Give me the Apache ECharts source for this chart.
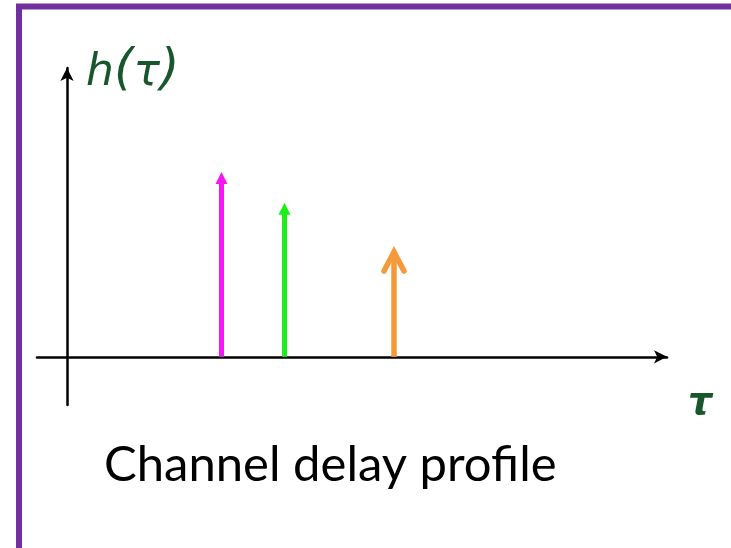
<!DOCTYPE html>
<html>
<head>
<meta charset="utf-8">
<script src="https://cdn.jsdelivr.net/npm/echarts@6/dist/echarts.min.js"></script>
<style>
  html, body { margin: 0; padding: 0; background: #ffffff; }
  #chart { width: 731px; height: 548px; }
</style>
</head>
<body>
<div id="chart"></div>
<script>
// ---- data ----
var delays = [5.15, 7.25, 10.9];        // tau positions of the impulses
var gains = [0.96, 0.80, 0.56];         // impulse heights h(tau)
var pathNames = ['path 1', 'path 2', 'path 3'];
var yLabelParts = ['h', '(', '\u03C4', ')'];
var xLabel = '\u03C4';
var caption = 'Channel delay profile';

// ---- styles ----
var pathColors = ['#f516f5', '#18f018', '#f59a3a'];
var headKinds = ['filled', 'filled', 'open'];

var chart = echarts.init(document.getElementById('chart'), null, { renderer: 'canvas' });

var impulseData = delays.map(function (d, i) {
  return { name: pathNames[i], value: [d, gains[i], i] };
});

function renderImpulse(params, api) {
  var x = api.value(0), h = api.value(1), idx = api.value(2);
  var base = api.coord([x, 0]);
  var tip = api.coord([x, h]);
  var color = pathColors[idx];
  var kind = headKinds[idx];
  var children = [];
  if (kind === 'filled') {
    var hh = 12, hw = 6;
    children.push({
      type: 'line',
      shape: { x1: base[0], y1: base[1], x2: tip[0], y2: tip[1] + hh - 2 },
      style: { stroke: color, lineWidth: 5 }
    });
    children.push({
      type: 'polygon',
      shape: { points: [[tip[0], tip[1]], [tip[0] - hw, tip[1] + hh], [tip[0] + hw, tip[1] + hh]] },
      style: { fill: color }
    });
  } else {
    children.push({
      type: 'line',
      shape: { x1: base[0], y1: base[1], x2: tip[0], y2: tip[1] + 3 },
      style: { stroke: color, lineWidth: 5.5 }
    });
    children.push({
      type: 'polyline',
      shape: { points: [[tip[0] - 10, tip[1] + 22], [tip[0], tip[1] + 3], [tip[0] + 10, tip[1] + 22]] },
      style: { stroke: color, lineWidth: 5.5, fill: null, lineCap: 'round', lineJoin: 'miter' }
    });
  }
  return { type: 'group', children: children };
}

var labelText = '{l|' + yLabelParts[0] + '}{p|' + yLabelParts[1] + '}{l|' + yLabelParts[2] + '}{p|' + yLabelParts[3] + '}';

var option = {
  animation: false,
  backgroundColor: '#ffffff',
  grid: { left: 37, right: 64, top: 68, bottom: 143 },
  xAxis: {
    type: 'value', min: -1, max: 20,
    axisLine: { show: true, onZero: true, symbol: ['none', 'arrow'], symbolSize: [10, 13],
      lineStyle: { color: '#000000', width: 2.5 } },
    axisTick: { show: false }, axisLabel: { show: false }, splitLine: { show: false }
  },
  yAxis: {
    type: 'value', min: -0.25, max: 1.5,
    axisLine: { show: true, onZero: true, symbol: ['none', 'arrow'], symbolSize: [10, 13],
      lineStyle: { color: '#000000', width: 2.5 } },
    axisTick: { show: false }, axisLabel: { show: false }, splitLine: { show: false }
  },
  series: [{
    type: 'custom',
    renderItem: renderImpulse,
    data: impulseData,
    encode: { x: 0, y: 1 },
    z: 5
  }],
  graphic: [
    { type: 'rect', shape: { x: 19, y: 6.5, width: 900, height: 700 },
      style: { fill: null, stroke: '#7030a0', lineWidth: 6 }, z: 10 },
    { type: 'text', left: 86, top: 46,
      style: {
        text: labelText,
        fill: '#17572b',
        rich: {
          l: { fontFamily: 'DejaVu Sans', fontStyle: 'italic', fontSize: 44, fill: '#17572b',
               textStroke: '#17572b', textStrokeWidth: 0.8, lineHeight: 54, verticalAlign: 'bottom' },
          p: { fontFamily: 'DejaVu Sans', fontStyle: 'italic', fontSize: 50, fill: '#17572b',
               textStroke: '#17572b', textStrokeWidth: 0.6, lineHeight: 54, verticalAlign: 'bottom' }
        }
      } },
    { type: 'text', left: 688, top: 385,
      style: { text: xLabel, fontFamily: 'DejaVu Sans', fontStyle: 'italic', fontWeight: 'bold',
        fontSize: 38, fill: '#17572b' } },
    { type: 'text', left: 104, top: 441,
      style: { text: caption, fontFamily: 'Lato', fontSize: 49, fill: '#000000' } }
  ]
};
chart.setOption(option);
</script>
</body>
</html>
